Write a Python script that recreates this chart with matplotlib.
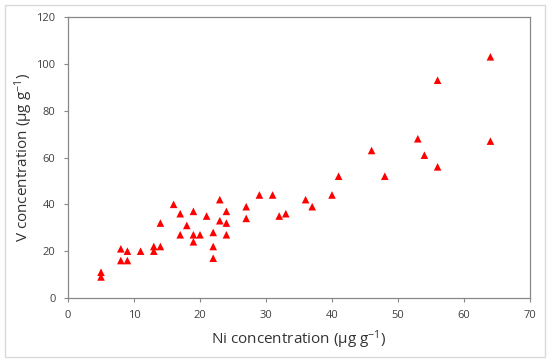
import numpy as np
import matplotlib
matplotlib.use("Agg")
from matplotlib import pyplot as plt
from matplotlib.patches import Rectangle

ni = [5, 5, 8, 8, 9, 9, 11, 13, 13, 14, 14, 16, 17, 17, 18, 19, 19, 19, 20,
      21, 22, 22, 22, 23, 23, 24, 24, 24, 27, 27, 29, 31, 32, 33, 36, 37,
      40, 41, 46, 48, 53, 54, 56, 56, 64, 64]
v = [11, 9, 21, 16, 20, 16, 20, 22, 20, 22, 32, 40, 36, 27, 31, 37, 27, 24, 27,
     35, 28, 22, 17, 42, 33, 37, 32, 27, 39, 34, 44, 44, 35, 36, 42, 39,
     44, 52, 63, 52, 68, 61, 56, 93, 103, 67]

x_ticks = [0, 10, 20, 30, 40, 50, 60, 70]
y_ticks = [0, 20, 40, 60, 80, 100, 120]

plt.rcParams['font.family'] = ['Open Sans', 'DejaVu Sans']
plt.rcParams['mathtext.fontset'] = 'custom'
plt.rcParams['mathtext.rm'] = 'Open Sans'
plt.rcParams['mathtext.default'] = 'rm'

fig = plt.figure(figsize=(5.5, 3.62), dpi=100)
fig.patches.append(Rectangle((5 / 550, 5 / 362), 540 / 550, 352 / 362,
                             transform=fig.transFigure, fill=False,
                             edgecolor='#d9d9d9', linewidth=1))
ax = fig.add_axes([68 / 550, 64 / 362, 462 / 550, 281 / 362])

ax.scatter(ni, v, marker='^', s=30, c='#ff0000', edgecolors='none', zorder=3)

ax.set_xlim(0, 70)
ax.set_ylim(0, 120)
ax.set_xticks(x_ticks)
ax.set_yticks(y_ticks)
ax.tick_params(direction='out', length=3, width=0.8, color='#888888',
               labelsize=8, labelcolor='#404040', pad=6)
for sp in ax.spines.values():
    sp.set_color('#888888')
    sp.set_linewidth(0.9)

ax.set_xlabel('Ni concentration (µg g$^{-1}$)', fontsize=11, color='#333333', labelpad=5)
ax.set_ylabel('V concentration (µg g$^{-1}$)', fontsize=11, color='#333333', labelpad=1)

fig.savefig('out.png', dpi=100)
